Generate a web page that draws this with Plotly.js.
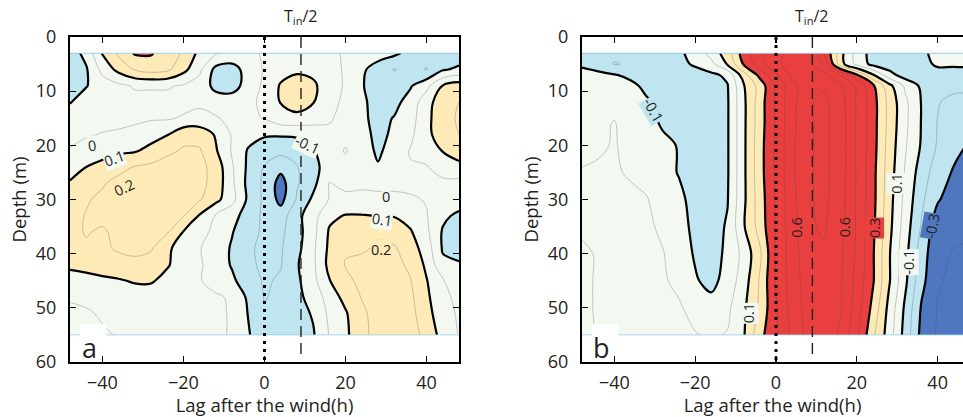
<!DOCTYPE html>
<html><head><meta charset="utf-8">
<script src="https://cdn.plot.ly/plotly-3.0.1.min.js"></script>
<style>html,body{margin:0;padding:0;background:#fff}</style>
</head><body><div id="chart" style="width:963px;height:417px"></div>
<script>
// ---- data ----
const lags = [-48,-44,-40,-36,-32,-28,-24,-20,-16,-12,-8,-4,0,4,8,12,16,20,24,28,32,36,40,44,48];
const depthsA = [3,6,9,12,15,18,21,24,27,30,33,36,39,42,45,48,51,55];
const corrA = [
 [-0.15,-0.07,0.11,0.22,0.31,0.31,0.24,0.19,0.07,0.01,-0.03,-0.02,0.01,0.04,0.06,0.05,0.02,-0.01,-0.03,-0.05,-0.08,-0.13,-0.17,-0.18,-0.16],
 [-0.16,-0.11,0.03,0.13,0.205,0.24,0.22,0.13,0.02,-0.13,-0.14,-0.06,0.01,0.06,0.08,0.07,0.03,-0.01,-0.08,-0.15,-0.205,-0.17,-0.205,-0.11,-0.08],
 [-0.13,-0.105,-0.05,-0.02,0.01,0.01,0.01,-0.01,-0.04,-0.13,-0.14,-0.06,0.02,0.11,0.15,0.12,0.04,-0.01,-0.09,-0.16,-0.15,-0.11,-0.03,0.105,0.15],
 [-0.105,-0.06,-0.04,-0.03,-0.03,-0.03,-0.03,-0.03,-0.02,-0.05,-0.05,-0.02,0.02,0.105,0.15,0.105,0.03,-0.02,-0.08,-0.14,-0.13,-0.06,0.06,0.16,0.2],
 [-0.06,-0.04,-0.03,-0.02,-0.02,-0.01,-0.01,0.01,0.03,0.01,-0.03,-0.02,0.005,0.06,0.07,0.05,0.01,-0.03,-0.08,-0.13,-0.095,-0.04,0.07,0.17,0.21],
 [-0.02,-0.01,0.005,0.01,0.03,0.06,0.095,0.17,0.16,0.09,-0.01,-0.06,-0.09,-0.09,-0.09,-0.07,-0.02,-0.02,-0.06,-0.13,-0.08,-0.02,0.07,0.16,0.2],
 [0.005,0.04,0.06,0.08,0.09,0.13,0.18,0.21,0.21,0.11,-0.01,-0.11,-0.15,-0.17,-0.14,-0.11,-0.03,0.005,-0.04,-0.12,-0.05,0.005,0.03,0.105,0.15],
 [0.05,0.1,0.13,0.17,0.205,0.22,0.24,0.24,0.23,0.16,0.01,-0.12,-0.205,-0.27,-0.205,-0.14,-0.04,-0.02,-0.03,-0.09,-0.03,-0.005,-0.005,0.04,0.07],
 [0.11,0.16,0.19,0.23,0.25,0.26,0.26,0.25,0.23,0.16,0.02,-0.13,-0.22,-0.34,-0.21,-0.13,0.005,-0.03,-0.02,-0.02,-0.02,-0.02,-0.01,-0.02,-0.03],
 [0.15,0.19,0.22,0.25,0.27,0.27,0.26,0.24,0.21,0.13,0.03,-0.12,-0.22,-0.33,-0.19,-0.08,0.005,0.03,0.03,0.02,0.02,0.01,-0.005,-0.03,-0.05],
 [0.17,0.205,0.22,0.25,0.26,0.26,0.24,0.205,0.09,-0.01,-0.06,-0.15,-0.22,-0.25,-0.13,-0.04,0.08,0.105,0.105,0.098,0.095,0.06,0.005,-0.08,-0.12],
 [0.18,0.205,0.19,0.22,0.23,0.23,0.21,0.095,0.04,-0.03,-0.095,-0.16,-0.22,-0.22,-0.14,-0.03,0.11,0.16,0.19,0.19,0.16,0.11,0.02,-0.11,-0.14],
 [0.17,0.19,0.185,0.21,0.22,0.21,0.12,0.05,0.005,-0.05,-0.11,-0.18,-0.23,-0.21,-0.13,-0.02,0.12,0.19,0.19,0.21,0.21,0.15,0.05,-0.11,-0.14],
 [0.12,0.13,0.15,0.17,0.18,0.16,0.11,0.05,0.01,-0.04,-0.11,-0.18,-0.22,-0.205,-0.11,-0.02,0.13,0.205,0.22,0.23,0.23,0.18,0.08,-0.08,-0.09],
 [0.06,0.07,0.08,0.09,0.11,0.11,0.07,0.03,0.005,-0.03,-0.08,-0.16,-0.21,-0.19,-0.12,-0.03,0.095,0.18,0.22,0.24,0.24,0.205,0.105,0.005,-0.03],
 [0.01,0.02,0.03,0.04,0.05,0.05,0.03,0.02,0.01,0.01,-0.01,-0.12,-0.205,-0.18,-0.12,-0.07,0.05,0.13,0.205,0.24,0.25,0.22,0.12,0.02,-0.02],
 [-0.02,-0.01,0.01,0.01,0.02,0.02,0.02,0.02,0.02,0.01,-0.005,-0.105,-0.19,-0.18,-0.14,-0.09,0.02,0.09,0.18,0.24,0.26,0.23,0.14,0.03,-0.01],
 [-0.03,-0.02,-0.01,0.005,0.01,0.01,0.01,0.01,0.01,0.01,-0.005,-0.09,-0.18,-0.18,-0.15,-0.11,0.005,0.08,0.17,0.24,0.26,0.24,0.17,0.06,-0.005]
];
const depthsB = [3,5,7,9,12,16,20,25,30,35,40,45,50,55];
const corrB = [
 [-0.13,-0.15,-0.18,-0.17,-0.15,-0.14,-0.12,-0.06,0.04,0.15,0.35,0.48,0.58,0.62,0.62,0.4,0.13,-0.04,-0.14,-0.18,-0.17,-0.12,-0.07,-0.06,-0.07],
 [-0.11,-0.14,-0.205,-0.19,-0.16,-0.15,-0.12,-0.09,-0.03,0.11,0.31,0.46,0.58,0.64,0.65,0.48,0.14,-0.03,-0.13,-0.16,-0.17,-0.14,-0.08,-0.09,-0.09],
 [-0.08,-0.08,-0.095,-0.12,-0.14,-0.14,-0.14,-0.13,-0.12,-0.08,0.16,0.33,0.49,0.62,0.66,0.63,0.49,0.31,0.11,-0.06,-0.15,-0.16,-0.15,-0.13,-0.12],
 [-0.06,-0.05,-0.07,-0.08,-0.12,-0.14,-0.15,-0.15,-0.14,-0.105,0.09,0.24,0.42,0.56,0.67,0.69,0.62,0.48,0.32,0.13,-0.02,-0.12,-0.17,-0.16,-0.15],
 [-0.05,-0.04,-0.03,-0.06,-0.09,-0.12,-0.14,-0.15,-0.15,-0.11,0.08,0.25,0.42,0.57,0.69,0.72,0.64,0.49,0.34,0.17,0.02,-0.105,-0.19,-0.24,-0.26],
 [-0.04,-0.02,0.005,-0.04,-0.07,-0.11,-0.13,-0.15,-0.15,-0.11,0.08,0.25,0.42,0.57,0.69,0.72,0.65,0.49,0.34,0.17,0.02,-0.105,-0.205,-0.25,-0.27],
 [-0.02,-0.01,0.005,-0.02,-0.05,-0.08,-0.105,-0.14,-0.15,-0.11,0.08,0.26,0.42,0.58,0.69,0.72,0.65,0.49,0.34,0.16,0.01,-0.11,-0.21,-0.27,-0.31],
 [0.005,0.01,0.01,-0.01,-0.03,-0.07,-0.105,-0.14,-0.15,-0.11,0.08,0.26,0.42,0.58,0.69,0.72,0.65,0.49,0.33,0.15,-0.01,-0.15,-0.25,-0.31,-0.35],
 [0.01,0.02,0.02,0.02,0.005,-0.04,-0.08,-0.13,-0.15,-0.105,0.08,0.25,0.41,0.57,0.69,0.72,0.64,0.49,0.33,0.14,-0.03,-0.18,-0.29,-0.35,-0.38],
 [0.01,0.02,0.03,0.04,0.02,-0.02,-0.07,-0.12,-0.14,-0.09,0.09,0.24,0.41,0.56,0.69,0.71,0.63,0.49,0.32,0.13,-0.05,-0.21,-0.36,-0.38,-0.39],
 [-0.01,0.005,0.02,0.03,0.02,0.005,-0.05,-0.11,-0.14,-0.08,0.03,0.18,0.41,0.55,0.67,0.69,0.62,0.48,0.31,0.11,-0.07,-0.25,-0.38,-0.405,-0.41],
 [-0.01,0.005,0.02,0.03,0.03,0.01,-0.02,-0.09,-0.13,-0.06,0.05,0.21,0.41,0.55,0.65,0.68,0.61,0.47,0.31,0.11,-0.08,-0.27,-0.39,-0.42,-0.43],
 [-0.01,0.005,0.02,0.03,0.03,0.02,0.01,-0.03,-0.06,-0.02,0.08,0.22,0.39,0.54,0.64,0.67,0.61,0.45,0.27,0.07,-0.12,-0.31,-0.405,-0.42,-0.43],
 [-0.02,0.005,0.02,0.03,0.03,0.02,0.01,0.005,-0.01,0.005,0.09,0.27,0.38,0.53,0.63,0.66,0.58,0.42,0.22,0.05,-0.14,-0.33,-0.41,-0.43,-0.43]
];
const xTicks = [-40,-20,0,20,40];
const yTicks = [0,10,20,30,40,50,60];
const windLag = 0;      // dotted line
const halfInertial = 9; // T_in/2 dashed line

// ---- style ----
const DB='#4f77bf', LB='#bfe5f1', PL='#f3f8f1', YE='#fdeab6', RD='#e9403f';
const scale = [[0,DB],[0.25,LB],[0.5,PL],[0.75,YE],[1,RD]];
const FONT = 'Open Sans, Noto Sans, sans-serif';
const INK = '#231f20';

const labelsA = [
  {x:-42.5,y:20.0,t:'0',a:-8,bg:PL},
  {x:-37.2,y:22.4,t:'0.1',a:-20,bg:PL},
  {x:-34.6,y:27.8,t:'0.2',a:-25,bg:YE},
  {x:10.6,y:19.8,t:'-0.1',a:25,bg:PL},
  {x:30.0,y:29.5,t:'0',a:0,bg:PL},
  {x:29.0,y:33.6,t:'0.1',a:8,bg:PL},
  {x:28.7,y:39.3,t:'0.2',a:0,bg:YE}
];
const labelsB = [
  {x:-30.2,y:13.5,t:'-0.1',a:60,bg:LB},
  {x:-6.9,y:51.0,t:'0.1',a:-90,bg:PL},
  {x:5.2,y:35.2,t:'0.6',a:-90,bg:RD},
  {x:17.0,y:35.2,t:'0.6',a:-90,bg:RD},
  {x:24.2,y:35.3,t:'0.3',a:-90,bg:RD},
  {x:29.9,y:27.1,t:'0.1',a:-90,bg:PL},
  {x:32.9,y:41.5,t:'-0.1',a:-90,bg:PL},
  {x:38.6,y:35.0,t:'-0.3',a:-80,bg:DB}
];

function panelTraces(z, depths, xa, ya){
  return [
    {type:'contour', x:lags, y:depths, z:z, xaxis:xa, yaxis:ya,
     colorscale:scale, showscale:false, autocontour:false,
     contours:{coloring:'fill', start:-0.3, end:0.3, size:0.2},
     line:{width:0, smoothing:1}, hoverinfo:'skip'},
    {type:'contour', x:lags, y:depths, z:z, xaxis:xa, yaxis:ya,
     showscale:false, autocontour:false,
     contours:{coloring:'none', start:-0.4, end:0.7, size:0.1},
     line:{width:1, color:'rgba(70,70,70,0.28)', smoothing:1}, hoverinfo:'skip'},
    {type:'contour', x:lags, y:depths, z:z, xaxis:xa, yaxis:ya,
     showscale:false, autocontour:false,
     contours:{coloring:'none', start:-0.3, end:0.3, size:0.2},
     line:{width:2.2, color:'#000', smoothing:1}, hoverinfo:'skip'}
  ];
}

const data = [...panelTraces(corrA, depthsA, 'x', 'y'), ...panelTraces(corrB, depthsB, 'x2', 'y2')];

const W = 963, H = 417;
const yDom = [1-362/H, 1-37/H];
function xAxis(domain, range, mirror){
  return {domain:domain, range:range, tickvals:xTicks, ticks:'inside', ticklen:6, tickwidth:1.3,
    tickcolor:'#000', showline:true, linewidth:2, linecolor:'#000', mirror:mirror, showgrid:false,
    zeroline:false, tickfont:{family:FONT, size:18, color:INK}, ticklabelstandoff:3,
    title:{text:'Lag after the wind(h)', font:{family:FONT, size:18.5, color:INK}, standoff:2}};
}
function yAxis(anchor, mirror){
  return {domain:yDom, range:[60,0], tickvals:yTicks, ticks:'inside', ticklen:6, tickwidth:1.3,
    tickcolor:'#000', showline:true, linewidth:2, linecolor:'#000', mirror:mirror, showgrid:false,
    zeroline:false, anchor:anchor, tickfont:{family:FONT, size:18, color:INK}, ticklabelstandoff:8,
    title:{text:'Depth (m)', font:{family:FONT, size:18.5, color:INK}, standoff:4}};
}

const shapes = [];
const annotations = [];
[['x','y','a',labelsA,depthsA],['x2','y2','b',labelsB,depthsB]].forEach(([xa,ya,letter,labels,depths])=>{
  const top = depths[0], bot = depths[depths.length-1];
  shapes.push({type:'line', xref:xa+' domain', yref:ya, x0:0, x1:1, y0:top, y1:top, line:{color:'rgba(150,205,230,0.8)', width:1}});
  shapes.push({type:'line', xref:xa+' domain', yref:ya, x0:0, x1:1, y0:bot, y1:bot, line:{color:'rgba(150,205,230,0.8)', width:1}});
  shapes.push({type:'rect', xref:xa, yref:ya, x0:-45.6, x1:-39, y0:53.0, y1:55.3, fillcolor:'#fff', line:{width:0}});
  shapes.push({type:'line', xref:xa, yref:ya, x0:windLag, x1:windLag, y0:0, y1:60, line:{color:'#000', width:3, dash:'3px,5px'}});
  shapes.push({type:'line', xref:xa, yref:ya, x0:halfInertial, x1:halfInertial, y0:0, y1:58.7, line:{color:'#222', width:1.4, dash:'11px,6px'}});
  annotations.push({xref:xa, yref:ya, x:-43.3, y:57.4, text:letter, showarrow:false, yanchor:'middle',
    font:{family:FONT, size:27, color:INK}});
  annotations.push({xref:xa, yref:'paper', x:halfInertial, y:1-17/H, text:'T<sub>in</sub>/2', showarrow:false,
    yanchor:'middle', font:{family:FONT, size:16, color:INK}});
  labels.forEach(l=>annotations.push({xref:xa, yref:ya, x:l.x, y:l.y, text:l.t, textangle:l.a, showarrow:false,
    bgcolor:l.bg, borderpad:0, font:{family:FONT, size:14.5, color:INK}}));
});

const layout = {
  width:W, height:H, margin:{l:0,r:0,t:0,b:0}, paper_bgcolor:'#fff', plot_bgcolor:'#fff',
  showlegend:false, hovermode:false,
  xaxis: Object.assign(xAxis([70/W, 459/W], [-48,48], 'ticks'), {anchor:'y'}),
  yaxis: yAxis('x', 'ticks'),
  xaxis2: Object.assign(xAxis([582/W, 1], [-48, 46.27], 'ticks'), {anchor:'y2'}),
  yaxis2: yAxis('x2', false),
  shapes: shapes, annotations: annotations
};
Plotly.newPlot('chart', data, layout, {staticPlot:true, displayModeBar:false});
</script></body></html>
